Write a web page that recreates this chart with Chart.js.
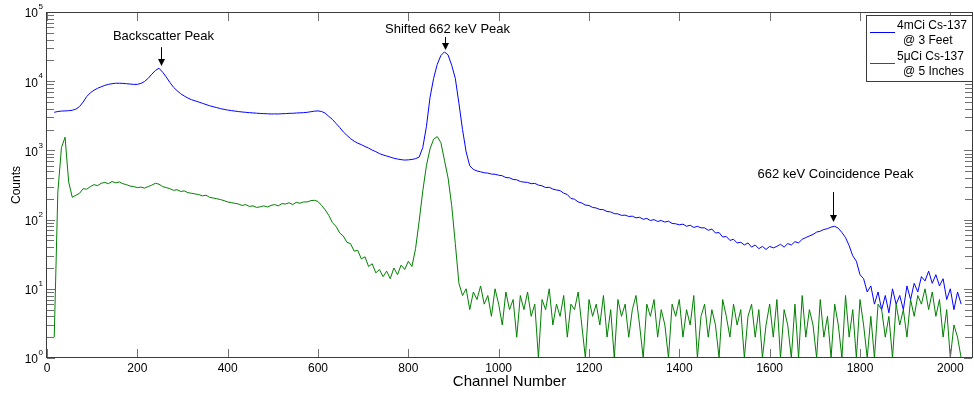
<!DOCTYPE html>
<html>
<head>
<meta charset="utf-8">
<script src="https://cdn.jsdelivr.net/npm/chart.js@4.4.0/dist/chart.umd.min.js"></script>
<style>
  html, body { margin: 0; padding: 0; background: #fff; }
</style>
</head>
<body>
<canvas id="spectrumChart" width="974" height="393"></canvas>
<script>
// channels start at 16, one reading every 8 channels
const firstChannel = 16;
const channelStep = 8;

// 4mCi Cs-137 @ 3 feet
const farSourceCounts = [
  3550, 3650, 3700, 3720, 3750, 3800, 3950, 4300, 5000, 6000,
  6800, 7400, 7900, 8300, 8700, 9000, 9200, 9350, 9350, 9300,
  9200, 9100, 9000, 9000, 9300, 9900, 11000, 12600, 14300, 15400,
  13500, 11500, 9600, 8200, 7300, 6600, 6100, 5700, 5400, 5200,
  5000, 4800, 4600, 4420, 4280, 4150, 4020, 3920, 3830, 3760,
  3700, 3640, 3590, 3550, 3510, 3480, 3450, 3420, 3400, 3380,
  3360, 3370, 3360, 3390, 3400, 3430, 3440, 3470, 3490, 3510,
  3550, 3620, 3690, 3720, 3650, 3450, 3100, 2800, 2450, 2150,
  1850, 1650, 1480, 1360, 1270, 1210, 1140, 1080, 1010, 960,
  900, 860, 830, 800, 770, 750, 735, 725, 730, 740,
  760, 800, 1100, 2200, 5800, 11000, 17500, 23500, 26500, 24000,
  17000, 11000, 4800, 2000, 950, 600, 530, 505, 490, 475,
  470, 455, 452, 438, 430, 405, 402, 380, 376, 355,
  348, 345, 330, 334, 315, 308, 290, 293, 276, 268,
  262, 241, 230, 202, 197, 180, 174, 162, 160, 150,
  147, 140, 139, 131, 129, 122, 121, 115, 116, 111,
  112, 106, 108, 101, 104, 97, 100, 94, 97, 92,
  95, 88, 87, 84, 86, 80, 83, 77, 80, 76,
  76, 70, 73, 64, 65, 56, 57, 50, 52, 46,
  47, 43, 46, 40, 43, 38, 41, 37, 41, 39,
  41, 44, 40, 45, 43, 48, 46, 52, 55, 58,
  61, 66, 68, 72, 74, 78, 80, 75, 65, 55,
  42, 30, 25, 16, 14, 9, 11, 6, 9, 5,
  8, 4.5, 10, 6, 8, 5, 11, 7, 12, 9,
  15, 13, 18, 12, 16, 11, 14, 7, 10, 5,
  9, 6
];

// 5uCi Cs-137 @ 5 inches
const nearSourceCounts = [
  2, 250, 1100, 1550, 350, 210, 225, 240, 280, 275,
  300, 320, 310, 335, 345, 330, 355, 340, 350, 330,
  320, 305, 300, 290, 295, 285, 300, 315, 335, 325,
  300, 290, 280, 265, 270, 255, 260, 245, 240, 235,
  230, 220, 225, 210, 205, 200, 195, 188, 180, 176,
  172, 168, 160, 165, 155, 158, 150, 153, 158, 152,
  160, 165, 158, 170, 168, 175, 165, 178, 172, 180,
  180, 188, 190, 183, 160, 138, 115, 90, 80, 64,
  58, 47, 45, 35, 36, 27, 29, 21, 23, 17,
  19, 15, 18, 14, 20, 16, 22, 19, 25, 21,
  38, 95, 260, 600, 1050, 1450, 1580, 1300, 720, 400,
  160, 45, 12, 8, 10, 5, 9, 7, 11, 6,
  8, 4, 10, 6, 3, 9, 5, 7, 2, 8,
  5, 9, 4, 6, 1, 7, 5, 10, 3, 6,
  4, 8, 2, 6, 5, 9, 3, 1, 7, 4,
  6, 3, 8, 2, 5, 1, 7, 4, 6, 2,
  5, 8, 3, 1, 6, 4, 7, 2, 5, 3,
  1, 6, 4, 7, 2, 5, 3, 8, 1, 4,
  6, 2, 5, 3, 1, 7, 4, 2, 6, 3,
  5, 1, 4, 6, 2, 5, 1, 3, 6, 2,
  7, 1, 5, 3, 1, 6, 1, 8, 2, 5,
  3, 1, 7, 2, 4, 1, 6, 3, 1, 8,
  2, 5, 1, 7, 3, 1, 4, 1, 6, 5,
  2, 4, 1, 6, 3, 5, 2, 7, 4, 8,
  6, 10, 5, 9, 4, 7, 2, 5, 1, 3,
  2, 1
];

const xTicks = [0, 200, 400, 600, 800, 1000, 1200, 1400, 1600, 1800, 2000];
const yTicks = [1, 10, 100, 1000, 10000, 100000];
const yTickExponents = ['0', '1', '2', '3', '4', '5'];

const seriesNames = ['4mCi Cs-137', '5\u03bcCi Cs-137'];
const seriesNotes = ['@ 3 Feet', '@ 5 Inches'];
const seriesColors = ['#0000ff', '#008000'];

// peak labels: text, channel, arrow tip, arrow tail, text height (counts)
const peakLabels = ['Backscatter Peak', 'Shifted 662 keV Peak', '662 keV Coincidence Peak'];
const peakChannels = [252, 882, 1741];
const peakTipCounts = [16600, 28200, 92];
const peakTailCounts = [31000, 43500, 250];
const peakTextCounts = [45000, 56800, 456];

const channels = farSourceCounts.map((_, i) => firstChannel + i * channelStep);
const toPoints = counts => counts.map((c, i) => ({ x: channels[i], y: c }));

const fontFamily = '"Liberation Sans", Arial, Helvetica, sans-serif';

const frameAndNotes = {
  id: 'frameAndNotes',
  afterDraw(chart) {
    const { ctx, chartArea: a, scales: { x, y } } = chart;
    ctx.save();

    // inward tick marks on all four sides
    ctx.lineWidth = 1;
    ctx.strokeStyle = '#707070';
    ctx.beginPath();
    xTicks.forEach(v => {
      const px = Math.round(x.getPixelForValue(v)) + 0.5;
      ctx.moveTo(px, a.bottom); ctx.lineTo(px, a.bottom - 9);
      ctx.moveTo(px, a.top); ctx.lineTo(px, a.top + 9);
    });
    yTicks.forEach(v => {
      const py = Math.round(y.getPixelForValue(v)) + 0.5;
      ctx.moveTo(a.left, py); ctx.lineTo(a.left + 8, py);
      ctx.moveTo(a.right, py); ctx.lineTo(a.right - 8, py);
    });
    for (let d = 0; d < yTicks.length - 1; d++) {
      for (let m = 2; m <= 9; m++) {
        const py = Math.round(y.getPixelForValue(m * yTicks[d])) + 0.5;
        ctx.moveTo(a.left, py); ctx.lineTo(a.left + 7, py);
        ctx.moveTo(a.right, py); ctx.lineTo(a.right - 7, py);
      }
    }
    ctx.stroke();

    // axes box
    ctx.strokeStyle = '#3c3c3c';
    ctx.strokeRect(a.left - 0.5, a.top + 0.5, a.right - a.left + 1, a.bottom - a.top - 1);

    // y tick labels as 10^n
    ctx.fillStyle = '#000';
    ctx.textBaseline = 'middle';
    yTicks.forEach((v, i) => {
      const py = y.getPixelForValue(v);
      ctx.font = '12px ' + fontFamily;
      ctx.textAlign = 'right';
      ctx.fillText('10', a.left - 9, py + 2);
      ctx.font = '8px ' + fontFamily;
      ctx.textAlign = 'left';
      ctx.fillText(yTickExponents[i], a.left - 8.5, py - 5);
    });

    // peak annotations with arrows
    peakLabels.forEach((label, i) => {
      const px = Math.round(x.getPixelForValue(peakChannels[i])) + 0.5;
      const tip = y.getPixelForValue(peakTipCounts[i]);
      const tail = y.getPixelForValue(peakTailCounts[i]);
      const ty = y.getPixelForValue(peakTextCounts[i]);
      ctx.strokeStyle = '#000';
      ctx.beginPath();
      ctx.moveTo(px, tail);
      ctx.lineTo(px, tip - 5);
      ctx.stroke();
      ctx.fillStyle = '#000';
      ctx.beginPath();
      ctx.moveTo(px, tip);
      ctx.lineTo(px - 3.5, tip - 7);
      ctx.lineTo(px + 3.5, tip - 7);
      ctx.closePath();
      ctx.fill();
      ctx.font = '13px ' + fontFamily;
      ctx.textAlign = 'center';
      ctx.textBaseline = 'middle';
      ctx.fillText(label, px + 2, ty);
    });

    // legend box, top right inside the axes
    const lw = 106, lh = 66;
    const lx = a.right - lw, ly = a.top + 3;
    ctx.fillStyle = '#fff';
    ctx.fillRect(lx, ly, lw, lh);
    ctx.strokeStyle = '#3c3c3c';
    ctx.strokeRect(lx + 0.5, ly + 0.5, lw, lh);
    ctx.font = '12px ' + fontFamily;
    ctx.textAlign = 'left';
    ctx.textBaseline = 'middle';
    seriesNames.forEach((name, i) => {
      const rowY = ly + 11 + i * 31;
      ctx.strokeStyle = seriesColors[i];
      ctx.beginPath();
      ctx.moveTo(lx + 4, rowY + 6.5);
      ctx.lineTo(lx + 29, rowY + 6.5);
      ctx.stroke();
      ctx.fillStyle = '#000';
      ctx.fillText(name, lx + 31, rowY);
      ctx.fillText(seriesNotes[i], lx + 37, rowY + 15);
    });

    ctx.restore();
  }
};

new Chart(document.getElementById('spectrumChart'), {
  type: 'line',
  data: {
    datasets: [
      {
        label: seriesNames[0] + ' ' + seriesNotes[0],
        data: toPoints(farSourceCounts),
        borderColor: seriesColors[0],
        borderWidth: 1,
        pointRadius: 0,
        tension: 0,
        order: 2
      },
      {
        label: seriesNames[1] + ' ' + seriesNotes[1],
        data: toPoints(nearSourceCounts),
        borderColor: seriesColors[1],
        borderWidth: 1,
        pointRadius: 0,
        tension: 0,
        order: 1
      }
    ]
  },
  options: {
    responsive: false,
    animation: false,
    layout: { padding: { top: 12, right: 2, left: 0, bottom: 0 } },
    plugins: {
      legend: { display: false },
      tooltip: { enabled: false }
    },
    scales: {
      x: {
        type: 'linear',
        min: 0,
        max: 2048,
        afterBuildTicks: scale => { scale.ticks = xTicks.map(v => ({ value: v })); },
        afterFit: scale => { scale.height = 35; },
        grid: { display: false, drawTicks: false },
        border: { display: false },
        ticks: {
          padding: 3,
          maxRotation: 0,
          autoSkip: false,
          color: '#000',
          font: { family: fontFamily, size: 12 },
          callback: value => String(value)
        },
        title: {
          display: true,
          text: 'Channel Number',
          color: '#000',
          padding: { top: 0, bottom: 2 },
          font: { family: fontFamily, size: 15 }
        }
      },
      y: {
        type: 'logarithmic',
        min: 1,
        max: 100000,
        afterBuildTicks: scale => { scale.ticks = yTicks.map(v => ({ value: v })); },
        afterFit: scale => { scale.width = 47; },
        grid: { display: false, drawTicks: false },
        border: { display: false },
        ticks: { display: false },
        title: {
          display: true,
          text: 'Counts',
          color: '#000',
          padding: { top: 9, bottom: 0 },
          font: { family: fontFamily, size: 12 }
        }
      }
    }
  },
  plugins: [frameAndNotes]
});
</script>
</body>
</html>
